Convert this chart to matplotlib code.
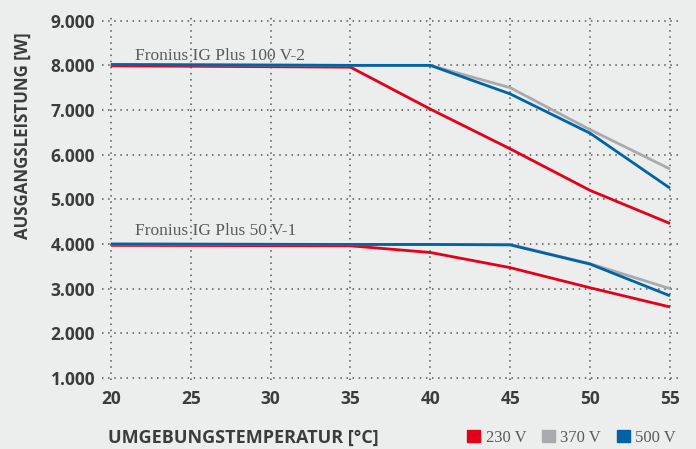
import matplotlib.pyplot as plt
from matplotlib.patches import Patch

temps = [20, 35, 40, 45, 50, 55]

# Fronius IG Plus 100 V-2
big_230 = [7990, 7960, 7020, 6130, 5200, 4460]
big_370 = [8020, 8000, 8000, 7500, 6560, 5680]
big_500 = [8020, 8000, 8000, 7360, 6480, 5250]

# Fronius IG Plus 50 V-1
small_230 = [3970, 3960, 3810, 3470, 3020, 2590]
small_370 = [4000, 3990, 3990, 3990, 3560, 3000]
small_500 = [4000, 3990, 3990, 3980, 3550, 2840]

yticks = [1000, 2000, 3000, 4000, 5000, 6000, 7000, 8000, 9000]
ytick_labels = ["1.000", "2.000", "3.000", "4.000", "5.000",
                "6.000", "7.000", "8.000", "9.000"]
xticks = [20, 25, 30, 35, 40, 45, 50, 55]

RED = "#e2001a"
GREY = "#a8abae"
BLUE = "#0062a7"
BG = "#eceded"
TXT = "#3c3c3c"

fig = plt.figure(figsize=(6.96, 4.49), dpi=100, facecolor=BG)
ax = fig.add_axes([0.1466, 0.1532, 0.8333, 0.8136], facecolor=BG)

for ys_230, ys_370, ys_500 in [(big_230, big_370, big_500),
                               (small_230, small_370, small_500)]:
    ax.plot(temps, ys_230, color=RED, lw=2.0, solid_capstyle="butt", zorder=3)
    ax.plot(temps, ys_370, color=GREY, lw=2.0, solid_capstyle="butt", zorder=4)
    ax.plot(temps, ys_500, color=BLUE, lw=2.0, solid_capstyle="butt", zorder=5)

ax.text(21.5, 8125, "Fronius IG Plus 100 V-2", family="Liberation Serif",
        fontsize=12.5, color="#5a5a5a", va="baseline")
ax.text(21.5, 4200, "Fronius IG Plus 50 V-1", family="Liberation Serif",
        fontsize=12.5, color="#5a5a5a", va="baseline")

ax.set_xlim(19.45, 55.75)
ax.set_ylim(950, 9130)
ax.set_xticks(xticks)
ax.set_yticks(yticks)
ax.set_yticklabels(ytick_labels)
ax.tick_params(length=0, labelsize=12.5, labelcolor=TXT, pad=5)
ax.tick_params(axis="x", pad=7)
for lab in ax.get_xticklabels() + ax.get_yticklabels():
    lab.set_fontweight("bold")
    lab.set_family("Open Sans")
for s in ax.spines.values():
    s.set_visible(False)
ax.grid(True, color="#555555", lw=1.1, linestyle=(0, (1, 3)))
ax.set_axisbelow(True)

fig.text(0.033, 0.697, "AUSGANGSLEISTUNG [W]", rotation=90, ha="center", va="center",
         family="Open Sans", fontweight="bold", fontsize=12.2, color=TXT)
fig.text(0.155, 0.0245, "UMGEBUNGSTEMPERATUR [°C]", ha="left", va="center",
         family="Open Sans", fontweight="bold", fontsize=13, color=TXT)

handles = [Patch(color=RED, label="230 V"), Patch(color=GREY, label="370 V"),
           Patch(color=BLUE, label="500 V")]
leg = fig.legend(handles=handles, ncol=3, loc="lower right",
                 bbox_to_anchor=(0.993, -0.026), frameon=False,
                 handlelength=0.75, handleheight=0.75, handletextpad=0.35,
                 columnspacing=0.95, prop={"family": "Liberation Serif", "size": 12})
for t in leg.get_texts():
    t.set_color("#5a5a5a")

fig.savefig("out.png", dpi=100, facecolor=BG)
